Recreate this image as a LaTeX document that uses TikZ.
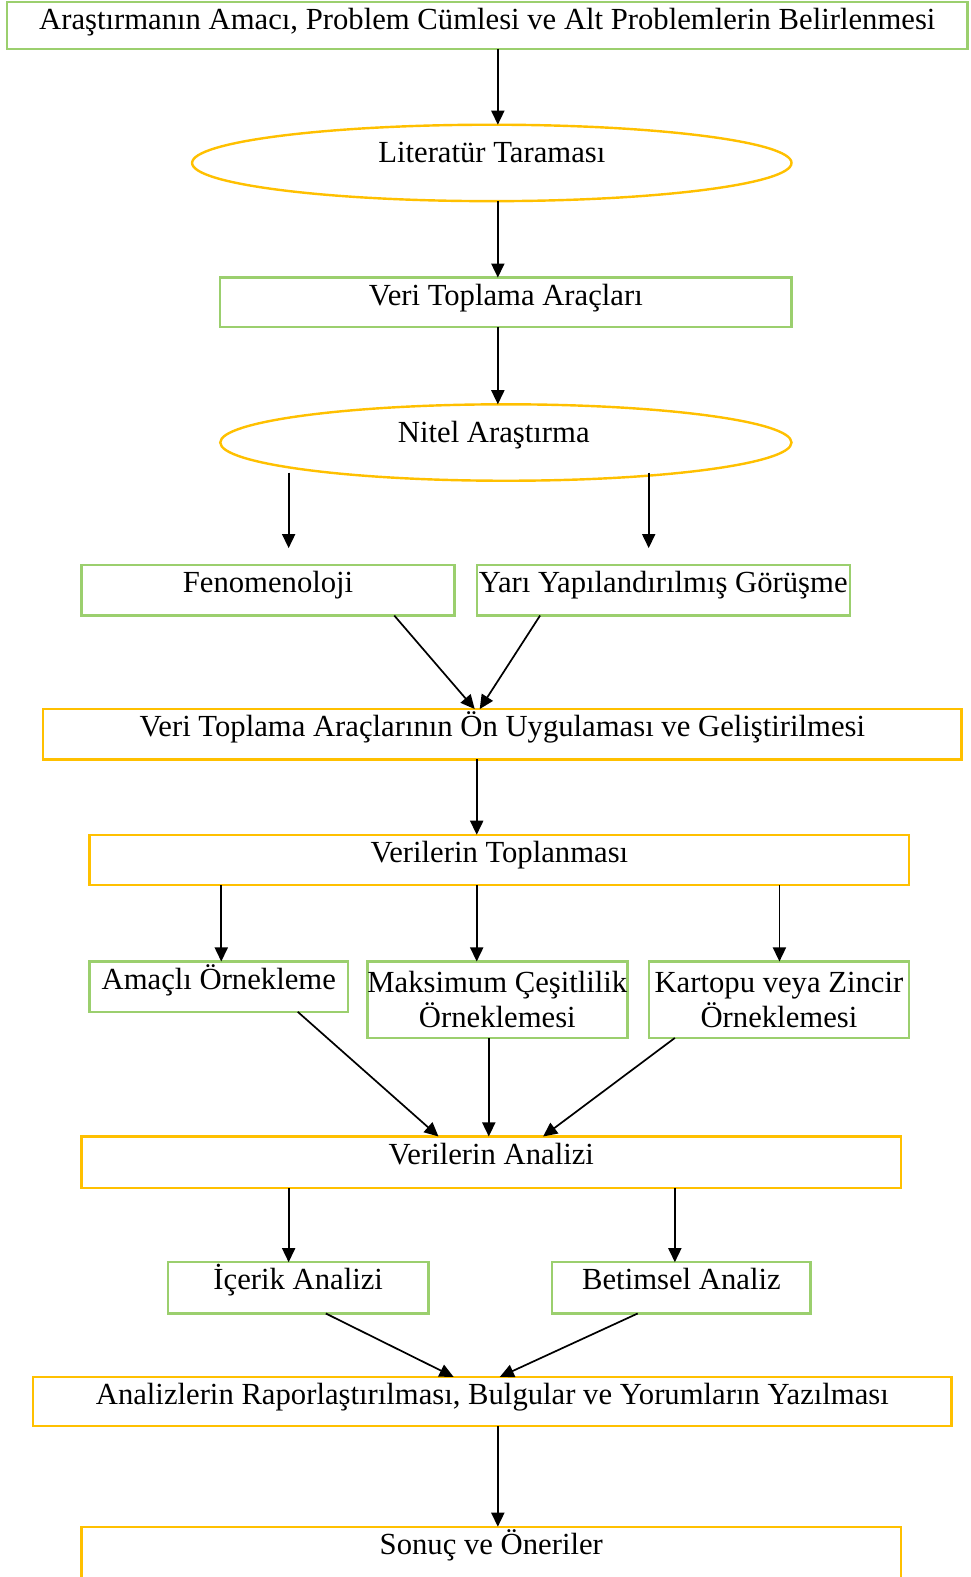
\documentclass[tikz,border=0pt]{standalone}
\usepackage{fontspec}
\setmainfont{Liberation Serif}
\usetikzlibrary{shapes.geometric,arrows.meta,calc}

\definecolor{boxgreen}{RGB}{155,207,110}
\definecolor{boxgold}{RGB}{255,192,0}

\begin{document}
\begin{tikzpicture}[x=1pt,y=-1pt,
  every node/.style={font=\fontsize{30.5}{31.5}\selectfont, inner sep=0pt, outer sep=0pt},
  stage/.style={rectangle, draw=#1, line width=2.4pt, anchor=north,
    text height=27.5pt, text depth=22.5pt},
  stage/.default=boxgreen,
  twoline/.style={text height=31pt, text depth=45pt},
  oval/.style={ellipse, draw=boxgold, line width=2.4pt, minimum height=76pt,
    text height=20pt, text depth=20pt},
  flow/.style={draw=black, line width=1.7pt, -{Triangle[length=14pt,width=13pt]}}
]
\useasboundingbox (0,0) rectangle (965,1568);

% ---- stages of the study ----
\node[stage, minimum width=955pt, text height=27pt, text depth=19.5pt] (amac) at (484.5,2)
  {Araştırmanın Amacı, Problem Cümlesi ve Alt Problemlerin Belirlenmesi};
\node[oval, minimum width=596pt] (lit) at (489,162) {Literatür Taraması};
\node[stage, minimum width=568pt, text depth=21.5pt] (arac) at (503,276) {Veri Toplama Araçları};
% the label sits a little left of the ellipse centre
\node[oval, minimum width=568pt] (nitel) at (503,440) {\hspace*{-24pt}Nitel Araştırma};

\node[stage, minimum width=371pt] (fen) at (266.5,562) {Fenomenoloji};
\node[stage, minimum width=371pt] (gor) at (659.5,562) {Yarı Yapılandırılmış Görüşme};

\node[stage=boxgold, minimum width=913pt] (onuyg) at (499.5,705)
  {Veri Toplama Araçlarının Ön Uygulaması ve Geliştirilmesi};
\node[stage=boxgold, minimum width=815pt] (topl) at (496.5,830) {Verilerin Toplanması};

\node[stage, minimum width=257pt] (amacli) at (217.5,956) {Amaçlı Örnekleme};
\node[stage, twoline, minimum width=257pt] (maks) at (494.5,956)
  {\begin{tabular}[t]{@{}c@{}}Maksimum Çeşitlilik\\Örneklemesi\end{tabular}};
\node[stage, twoline, minimum width=259pt] (kart) at (774.5,956)
  {\begin{tabular}[t]{@{}c@{}}Kartopu veya Zincir\\Örneklemesi\end{tabular}};

\node[stage=boxgold, minimum width=815pt, text depth=23.5pt] (analiz) at (488.5,1130) {Verilerin Analizi};

\node[stage, minimum width=259pt, text depth=23.5pt] (icerik) at (296.5,1255) {İçerik Analizi};
\node[stage, minimum width=257pt, text depth=23.5pt] (betim) at (677.5,1255) {Betimsel Analiz};

\node[stage=boxgold, minimum width=913pt, text depth=21.5pt] (rapor) at (489.5,1369)
  {Analizlerin Raporlaştırılması, Bulgular ve Yorumların Yazılması};
\node[stage=boxgold, minimum width=815pt, text depth=32.5pt] (sonuc) at (488.5,1518) {Sonuç ve Öneriler};

% ---- connectors ----
\draw[flow] (amac.south -| 495,0) -- (lit.north -| 495,0);
\draw[flow] (lit.south -| 495,0) -- (arac.north -| 495,0);
\draw[flow] (arac.south -| 495,0) -- (nitel.north -| 495,0);

\draw[flow] ($(nitel.south -| 287,0)+(0,-8)$) -- ($(fen.north -| 287,0)+(0,-17)$);
\draw[flow] ($(nitel.south -| 645,0)+(0,-8)$) -- ($(gor.north -| 645,0)+(0,-17)$);

\draw[flow] (fen.south -| 392,0) -- (onuyg.north -| 472,0);
\draw[flow] (gor.south -| 537,0) -- (onuyg.north -| 477,0);

\draw[flow] (onuyg.south -| 474,0) -- (topl.north -| 474,0);

\draw[flow] (topl.south -| 220,0) -- (amacli.north -| 220,0);
\draw[flow] (topl.south -| 474,0) -- (maks.north -| 474,0);
\draw[flow] (topl.south -| 775,0) -- (kart.north -| 775,0);

\draw[flow] (amacli.south -| 296,0) -- (analiz.north -| 436,0);
\draw[flow] (maks.south -| 486,0) -- (analiz.north -| 486,0);
\draw[flow] (kart.south -| 671,0) -- (analiz.north -| 540,0);

\draw[flow] (analiz.south -| 287,0) -- (icerik.north -| 287,0);
\draw[flow] (analiz.south -| 671,0) -- (betim.north -| 671,0);

\draw[flow] (icerik.south -| 324,0) -- (rapor.north -| 451,0);
\draw[flow] (betim.south -| 634,0) -- (rapor.north -| 497,0);

\draw[flow] (rapor.south -| 495,0) -- (sonuc.north -| 495,0);
\end{tikzpicture}
\end{document}
